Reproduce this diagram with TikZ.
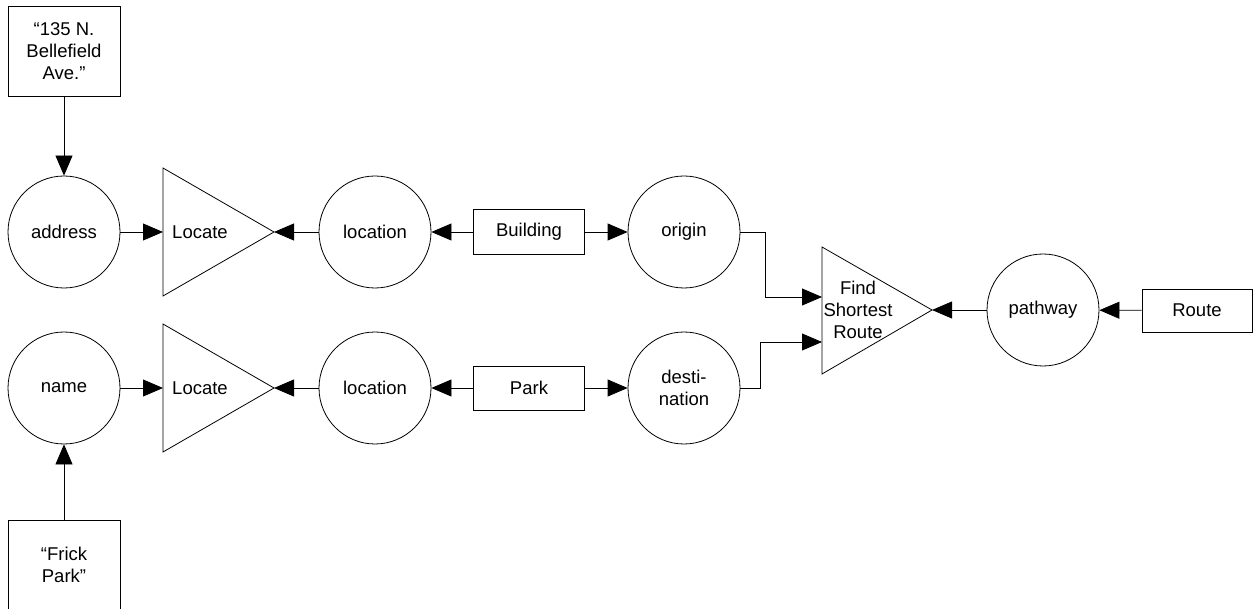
\documentclass[tikz,border=0pt]{standalone}
\usepackage{fontspec}
\setmainfont{Liberation Sans}
\usepackage{tikz}
\usetikzlibrary{arrows.meta}

\tikzset{
  val/.style={draw,circle,minimum size=112pt,inner sep=0pt,align=center},
  thing/.style={draw,rectangle,inner sep=0pt,align=center},
  flow/.style={-{Triangle[length=20pt,width=17pt]}}
}

\begin{document}
\begin{tikzpicture}[x=1pt,y=-1pt,line width=0.8pt,
    font=\fontsize{18.5}{22}\selectfont]
  \useasboundingbox (0,0) rectangle (1253,609);
      \draw (64,51) node[thing,minimum width=112pt,minimum height=90pt] (addrval) {``135 N.\\Bellefield\\Ave.''};
      \draw (64,565) node[thing,minimum width=112pt,minimum height=90pt] (nameval) {``Frick\\Park''};
  \draw (64,232) node[val] (address) {address};
  \draw (64,388) node[val] (name) {name};
  % the two Locate functions
      \coordinate (locateA-w) at (163,232);
      \coordinate (locateA-tip) at (274,232);
      \draw (163,168) -- (locateA-tip) -- (163,296) -- cycle;
      \draw (200,232) node (locateA) {Locate};
      \coordinate (locateB-w) at (163,388);
      \coordinate (locateB-tip) at (274,388);
      \draw (163,324) -- (locateB-tip) -- (163,452) -- cycle;
      \draw (200,388) node (locateB) {Locate};
  \draw (375,232) node[val] (locA) {location};
  \draw (375,388) node[val] (locB) {location};
      \draw (529,232) node[thing,minimum width=111pt,minimum height=45pt] (building) {Building};
      \draw (529,388) node[thing,minimum width=111pt,minimum height=44pt] (park) {Park};
  \draw (684,232) node[val] (origin) {origin};
  \draw (684,388) node[val] (dest) {desti-\\nation};
  % Find Shortest Route
      \coordinate (find-in1) at (822,297);
      \coordinate (find-in2) at (822,342);
      \coordinate (find-tip) at (932,310);
      \draw (822,247) -- (find-tip) -- (822,374) -- cycle;
      \draw (858,310) node[align=center] (find) {Find\\Shortest\\Route};
  \draw (1043,310) node[val] (pathway) {pathway};
      \draw (1197,310.5) node[thing,minimum width=110pt,minimum height=43pt] (route) {Route};
      \path[flow] (addrval) edge (address);
      \path[flow] (nameval) edge (name);
      \path[flow] (address) edge (locateA-w);
      \path[flow] (name) edge (locateB-w);
      \path[flow] (locA) edge (locateA-tip);
      \path[flow] (locB) edge (locateB-tip);
      \path[flow] (building) edge (locA);
      \path[flow] (building) edge (origin);
      \path[flow] (park) edge (locB);
      \path[flow] (park) edge (dest);
      \draw[flow] (origin.east) -- ++(25,0) |- (find-in1);
      \draw[flow] (dest.east) -- ++(20,0) |- (find-in2);
      \path[flow] (pathway) edge (find-tip);
      \path[flow] (route) edge (pathway);
\end{tikzpicture}
\end{document}
